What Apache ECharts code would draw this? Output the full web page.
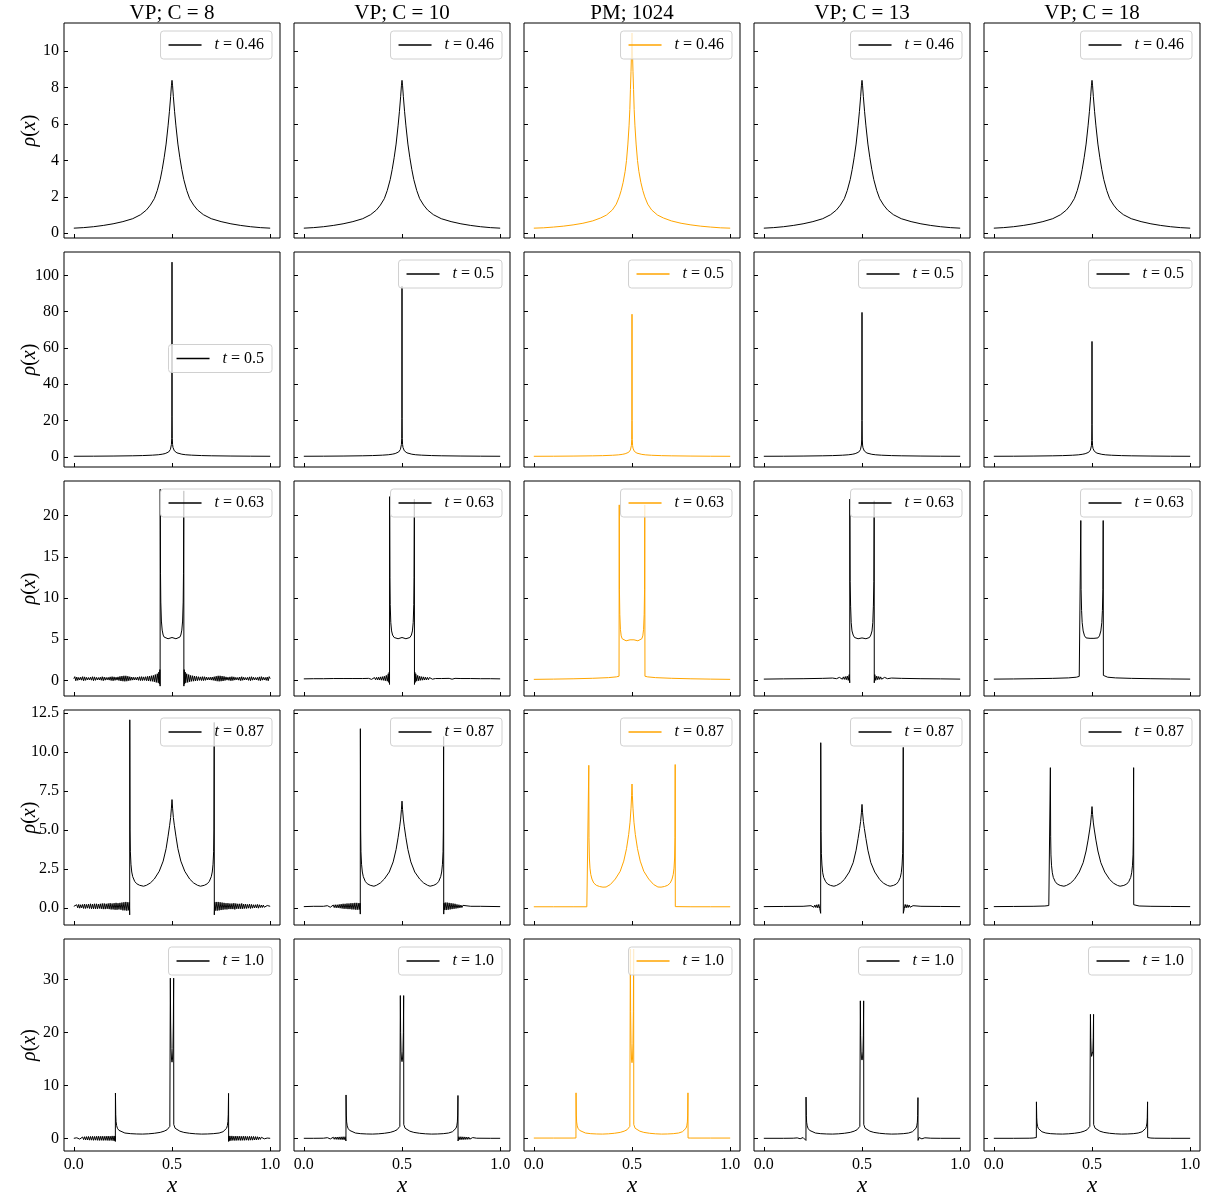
<!DOCTYPE html>
<html><head><meta charset="utf-8">
<script src="https://cdn.jsdelivr.net/npm/echarts@6/dist/echarts.min.js"></script>
<style>html,body{margin:0;padding:0;background:#fff}#c{width:1206px;height:1198px}</style>
</head><body><div id="c"></div>
<script>
// ---------- labels ----------
const columnTitles = ['VP; C = 8', 'VP; C = 10', 'PM; 1024', 'VP; C = 13', 'VP; C = 18'];
const rowTimes = ['0.46', '0.5', '0.63', '0.87', '1.0'];
const xTicks = [0, 0.5, 1.0];
const yTicksRow = [[0,2,4,6,8,10],[0,20,40,60,80,100],[0,5,10,15,20],[0,2.5,5,7.5,10,12.5],[0,10,20,30]];
const yLimits = [[-0.26,11.55],[-5.6,112.9],[-1.9,24.2],[-1.1,12.7],[-2.4,37.7]];
const xLimits = [-0.05, 1.05];

// ---------- row 1 : t = 0.46 ----------
const xR1 = [0,0.05,0.1,0.15,0.2,0.25,0.3,0.34,0.37,0.39,0.41,0.425,0.44,0.45,0.46,0.47,0.48,0.487,0.493,0.497,0.5,0.503,0.507,0.513,0.52,0.53,0.54,0.55,0.56,0.575,0.59,0.61,0.63,0.66,0.7,0.75,0.8,0.85,0.9,0.95,1];
const yR1vp = [0.28,0.31,0.36,0.43,0.52,0.64,0.80,1.02,1.28,1.55,1.9,2.35,2.95,3.5,4.15,4.9,5.9,6.7,7.5,8.1,8.4,8.1,7.5,6.7,5.9,4.9,4.15,3.5,2.95,2.35,1.9,1.55,1.28,1.02,0.80,0.64,0.52,0.43,0.36,0.31,0.28];
const xR1pm = [0,0.05,0.1,0.15,0.2,0.25,0.3,0.34,0.37,0.4,0.42,0.435,0.445,0.455,0.465,0.472,0.479,0.485,0.489,0.492,0.495,0.4975,0.5,0.5025,0.505,0.508,0.511,0.515,0.521,0.528,0.535,0.545,0.555,0.565,0.58,0.6,0.63,0.66,0.7,0.75,0.8,0.85,0.9,0.95,1];
const yR1pm = [0.28,0.30,0.34,0.39,0.46,0.55,0.68,0.84,1.0,1.28,1.6,2.0,2.35,2.8,3.4,4.0,4.9,5.9,6.8,7.9,8.9,9.9,11.0,9.9,8.9,7.9,6.8,5.9,4.9,4.0,3.4,2.8,2.35,2.0,1.6,1.28,1.0,0.84,0.68,0.55,0.46,0.39,0.34,0.30,0.28];

// ---------- row 2 : t = 0.5 ----------
const xR2 = [0,0.1,0.2,0.3,0.35,0.4,0.43,0.45,0.465,0.475,0.483,0.488,0.492,0.495,0.497,0.4985,0.4995,0.5,0.5005,0.5015,0.503,0.505,0.508,0.512,0.517,0.525,0.535,0.55,0.57,0.6,0.65,0.7,0.8,0.9,1];
const yR2c1 = [0.32,0.36,0.44,0.58,0.7,0.92,1.15,1.45,1.8,2.2,2.7,3.3,4.1,5.2,6.8,10,22,107.3,22,10,6.8,5.2,4.1,3.3,2.7,2.2,1.8,1.45,1.15,0.92,0.7,0.58,0.44,0.36,0.32];
const yR2c2 = [0.32,0.36,0.44,0.58,0.7,0.92,1.15,1.45,1.8,2.2,2.7,3.3,4.1,5.2,6.8,10,21,94,21,10,6.8,5.2,4.1,3.3,2.7,2.2,1.8,1.45,1.15,0.92,0.7,0.58,0.44,0.36,0.32];
const yR2c3 = [0.3,0.34,0.42,0.55,0.66,0.86,1.08,1.35,1.7,2.05,2.5,3.0,3.8,4.8,6.3,9.5,20,78.6,20,9.5,6.3,4.8,3.8,3.0,2.5,2.05,1.7,1.35,1.08,0.86,0.66,0.55,0.42,0.34,0.3];
const yR2c4 = [0.31,0.35,0.43,0.57,0.68,0.9,1.12,1.4,1.75,2.1,2.6,3.2,3.9,5.0,6.5,9.8,20,79.6,20,9.8,6.5,5.0,3.9,3.2,2.6,2.1,1.75,1.4,1.12,0.9,0.68,0.57,0.43,0.35,0.31];
const yR2c5 = [0.31,0.35,0.43,0.56,0.67,0.88,1.1,1.38,1.72,2.05,2.5,3.05,3.75,4.7,6.1,9.0,18,63.6,18,9.0,6.1,4.7,3.75,3.05,2.5,2.05,1.72,1.38,1.1,0.88,0.67,0.56,0.43,0.35,0.31];

// ---------- oscillating baselines (sampled x positions) ----------
const xOsc3L = [0,0.005,0.01,0.015,0.02,0.025,0.03,0.035,0.04,0.045,0.05,0.055,0.06,0.065,0.07,0.075,0.08,0.085,0.09,0.095,0.1,0.105,0.11,0.115,0.12,0.125,0.13,0.135,0.14,0.145,0.15,0.155,0.16,0.165,0.17,0.175,0.18,0.185,0.19,0.195,0.2,0.205,0.21,0.215,0.22,0.225,0.23,0.235,0.24,0.245,0.25,0.255,0.26,0.265,0.27,0.275,0.28,0.285,0.29,0.295,0.3,0.305,0.31,0.315,0.32,0.325,0.33,0.335,0.34,0.345,0.35,0.355,0.36,0.365,0.37,0.375,0.38,0.385,0.39,0.395,0.4,0.405,0.41,0.415,0.42,0.425,0.43];
const xOsc3R = [0.57,0.575,0.58,0.585,0.59,0.595,0.6,0.605,0.61,0.615,0.62,0.625,0.63,0.635,0.64,0.645,0.65,0.655,0.66,0.665,0.67,0.675,0.68,0.685,0.69,0.695,0.7,0.705,0.71,0.715,0.72,0.725,0.73,0.735,0.74,0.745,0.75,0.755,0.76,0.765,0.77,0.775,0.78,0.785,0.79,0.795,0.8,0.805,0.81,0.815,0.82,0.825,0.83,0.835,0.84,0.845,0.85,0.855,0.86,0.865,0.87,0.875,0.88,0.885,0.89,0.895,0.9,0.905,0.91,0.915,0.92,0.925,0.93,0.935,0.94,0.945,0.95,0.955,0.96,0.965,0.97,0.975,0.98,0.985,0.99,0.995,1];
const xOsc4L = [0,0.005,0.01,0.015,0.02,0.025,0.03,0.035,0.04,0.045,0.05,0.055,0.06,0.065,0.07,0.075,0.08,0.085,0.09,0.095,0.1,0.105,0.11,0.115,0.12,0.125,0.13,0.135,0.14,0.145,0.15,0.155,0.16,0.165,0.17,0.175,0.18,0.185,0.19,0.195,0.2,0.205,0.21,0.215,0.22,0.225,0.23,0.235,0.24,0.245,0.25,0.255,0.26,0.265,0.27,0.275,0.28];
const xOsc4R = [0.72,0.725,0.73,0.735,0.74,0.745,0.75,0.755,0.76,0.765,0.77,0.775,0.78,0.785,0.79,0.795,0.8,0.805,0.81,0.815,0.82,0.825,0.83,0.835,0.84,0.845,0.85,0.855,0.86,0.865,0.87,0.875,0.88,0.885,0.89,0.895,0.9,0.905,0.91,0.915,0.92,0.925,0.93,0.935,0.94,0.945,0.95,0.955,0.96,0.965,0.97,0.975,0.98,0.985,0.99,0.995,1];
const xOsc5L = [0,0.005,0.01,0.015,0.02,0.025,0.03,0.035,0.04,0.045,0.05,0.055,0.06,0.065,0.07,0.075,0.08,0.085,0.09,0.095,0.1,0.105,0.11,0.115,0.12,0.125,0.13,0.135,0.14,0.145,0.15,0.155,0.16,0.165,0.17,0.175,0.18,0.185,0.19,0.195,0.2,0.205];
const xOsc5R = [0.795,0.8,0.805,0.81,0.815,0.82,0.825,0.83,0.835,0.84,0.845,0.85,0.855,0.86,0.865,0.87,0.875,0.88,0.885,0.89,0.895,0.9,0.905,0.91,0.915,0.92,0.925,0.93,0.935,0.94,0.945,0.95,0.955,0.96,0.965,0.97,0.975,0.98,0.985,0.99,0.995,1];

// ---------- row 3 : t = 0.63 ----------
const yOsc3c1L = [0.2,0.45,-0.05,0.4,0.0,0.35,0.05,0.38,0.02,0.45, -0.05,0.42,0.0,0.36,0.05,0.34,0.06,0.38,0.02,0.44, -0.04,0.42,0.0,0.36,0.05,0.34,0.05,0.38,0.01,0.44, -0.04,0.4,0.02,0.35,0.06,0.36,0.03,0.42,-0.02,0.45, -0.05,0.42,0.0,0.38,0.03,0.42,-0.02,0.48,-0.08,0.52, -0.1,0.55,-0.12,0.55,-0.1,0.5,-0.05,0.44,0.0,0.4, 0.03,0.38,0.05,0.36,0.04,0.4,0.0,0.44,-0.03,0.45, -0.02,0.42,0.0,0.44,-0.04,0.48,-0.08,0.52,-0.1,0.56, -0.12,0.6,-0.18,0.7,-0.25,0.8,-0.3];
const r3c1Mid = [[0.433,1.0],[0.436,-0.45],[0.438,1.3],[0.4395,-0.7],[0.44,23.2],[0.4415,13],[0.443,9.5],[0.446,7.2],[0.45,6.1],[0.455,5.5],[0.46,5.25],[0.47,5.05],[0.48,5.05],[0.49,5.15],[0.5,5.2],[0.51,5.15],[0.52,5.05],[0.53,5.05],[0.54,5.25],[0.545,5.5],[0.55,6.1],[0.554,7.2],[0.557,9.5],[0.5585,13],[0.56,23.0],[0.5605,-0.7],[0.562,1.3],[0.564,-0.45],[0.567,1.0]];
const yOsc3c1R = [-0.3,0.8,-0.25,0.7,-0.18,0.6,-0.12, 0.56,-0.1,0.52,-0.08,0.48,-0.04,0.44,0.0,0.42,-0.02, 0.45,-0.03,0.44,0.0,0.4,0.04,0.36,0.05,0.38,0.03, 0.4,0.0,0.44,-0.05,0.5,-0.1,0.55,-0.12,0.55,-0.1, 0.52,-0.08,0.48,-0.02,0.42,0.03,0.38,0.0,0.42,-0.05, 0.45,-0.02,0.42,0.03,0.36,0.06,0.35,0.02,0.4,-0.04, 0.44,0.01,0.38,0.05,0.34,0.05,0.36,0.0,0.42,-0.04, 0.44,0.02,0.38,0.06,0.34,0.05,0.36,0.0,0.42,-0.05, 0.45,0.02,0.38,0.05,0.35,0.0,0.4,-0.05,0.45,0.2];
const r3c2 = [[0,0.18],[0.05,0.2],[0.1,0.2],[0.15,0.22],[0.2,0.22],[0.25,0.22],[0.3,0.22],[0.33,0.24],[0.335,0.16],[0.34,0.3],[0.345,0.12],[0.35,0.32],[0.355,0.1],[0.36,0.34],[0.365,0.08],[0.37,0.36],[0.375,0.06],[0.38,0.38],[0.385,0.04],[0.39,0.42],[0.395,0.02],[0.4,0.45],[0.405,0],[0.41,0.5],[0.415,-0.05],[0.42,0.6],[0.425,-0.1],[0.43,0.8],[0.433,-0.25],[0.435,1.0],[0.4365,-0.5],
  [0.437,22.3],[0.4385,12.5],[0.44,9.2],[0.443,7.0],[0.447,6.0],[0.452,5.5],[0.46,5.2],[0.47,5.05],[0.48,5.05],[0.49,5.15],[0.5,5.2],[0.51,5.15],[0.52,5.05],[0.53,5.05],[0.54,5.2],[0.548,5.5],[0.553,6.0],[0.557,7.0],[0.56,9.2],[0.5615,12.5],[0.563,22.0],
  [0.5635,-0.5],[0.565,1.0],[0.567,-0.25],[0.57,0.8],[0.575,-0.1],[0.58,0.6],[0.585,-0.05],[0.59,0.5],[0.595,0],[0.6,0.45],[0.605,0.02],[0.61,0.42],[0.615,0.04],[0.62,0.38],[0.625,0.06],[0.63,0.36],[0.635,0.08],[0.64,0.34],[0.645,0.1],[0.65,0.3],[0.655,0.14],[0.66,0.26],[0.67,0.22],[0.7,0.22],[0.74,0.24],[0.745,0.16],[0.75,0.3],[0.755,0.14],[0.76,0.3],[0.765,0.16],[0.77,0.24],[0.8,0.22],[0.85,0.22],[0.9,0.2],[0.95,0.2],[1,0.18]];
const r3c3 = [[0,0.12],[0.1,0.15],[0.2,0.19],[0.3,0.25],[0.38,0.33],[0.42,0.42],[0.434,0.5],[0.435,21.3],[0.436,11],[0.438,8],[0.441,6.2],[0.445,5.4],[0.45,5.05],[0.46,4.85],[0.47,4.8],[0.48,4.82],[0.49,4.92],[0.5,5.0],[0.51,4.92],[0.52,4.82],[0.53,4.8],[0.54,4.85],[0.55,5.05],[0.555,5.4],[0.559,6.2],[0.562,8],[0.564,11],[0.565,21.3],[0.566,0.5],[0.58,0.42],[0.62,0.33],[0.7,0.25],[0.8,0.19],[0.9,0.15],[1,0.12]];
const r3c4 = [[0,0.15],[0.1,0.18],[0.2,0.2],[0.3,0.24],[0.35,0.28],[0.37,0.2],[0.375,0.34],[0.38,0.18],[0.385,0.36],[0.39,0.16],[0.395,0.38],[0.4,0.14],[0.405,0.42],[0.41,0.12],[0.415,0.46],[0.42,0.08],[0.425,0.52],[0.43,0.0],[0.435,0.7],[0.4375,-0.3],[0.438,22.0],[0.4395,12],[0.442,9],[0.445,7.0],[0.449,6.0],[0.455,5.5],[0.462,5.2],[0.47,5.1],[0.48,5.05],[0.49,5.12],[0.5,5.15],[0.51,5.12],[0.52,5.05],[0.53,5.1],[0.538,5.2],[0.545,5.5],[0.551,6.0],[0.555,7.0],[0.558,9],[0.5605,12],[0.562,21.8],[0.5625,-0.3],[0.565,0.7],[0.57,0.0],[0.575,0.52],[0.58,0.08],[0.585,0.46],[0.59,0.12],[0.595,0.42],[0.6,0.14],[0.605,0.38],[0.61,0.16],[0.615,0.36],[0.62,0.18],[0.625,0.34],[0.63,0.2],[0.65,0.28],[0.7,0.24],[0.8,0.2],[0.9,0.18],[1,0.15]];
const r3c5 = [[0,0.15],[0.1,0.17],[0.2,0.2],[0.3,0.24],[0.38,0.3],[0.42,0.38],[0.435,0.48],[0.442,0.6],[0.443,19.4],[0.4445,11],[0.447,8.5],[0.45,7.0],[0.455,6.0],[0.462,5.4],[0.47,5.15],[0.48,5.05],[0.49,5.1],[0.5,5.15],[0.51,5.1],[0.52,5.05],[0.53,5.15],[0.538,5.4],[0.545,6.0],[0.55,7.0],[0.553,8.5],[0.5555,11],[0.557,19.4],[0.558,0.6],[0.565,0.48],[0.58,0.38],[0.62,0.3],[0.7,0.24],[0.8,0.2],[0.9,0.17],[1,0.15]];

// ---------- row 4 : t = 0.87 ----------
const yOsc4c1L = [0.1,0.2,0.0,0.2,0.0,0.22,-0.02,0.2,0.0,0.22, -0.04,0.24,-0.04,0.22,-0.02,0.24,-0.04,0.26,-0.06,0.24, -0.06,0.26,-0.06,0.26,-0.06,0.24,-0.04,0.26,-0.06,0.28, -0.08,0.28,-0.08,0.26,-0.06,0.28,-0.08,0.3,-0.1,0.28, -0.1,0.3,-0.12,0.32,-0.12,0.3,-0.1,0.32,-0.12,0.34, -0.16,0.36,-0.16,0.38,-0.18,0.36,-0.16];
const r4c1Mid = [[0.283,0.35],[0.2845,-0.45],[0.285,12.07],[0.2865,5.0],[0.288,3.6],[0.291,2.8],[0.295,2.3],[0.3,2.0],[0.31,1.7],[0.32,1.55],[0.335,1.45],[0.355,1.39],[0.37,1.45],[0.39,1.6],[0.41,1.85],[0.435,2.35],[0.455,3.0],[0.47,3.8],[0.48,4.6],[0.488,5.3],[0.493,5.8],[0.497,6.4],[0.5,6.95],[0.503,6.4],[0.507,5.8],[0.512,5.3],[0.52,4.6],[0.53,3.8],[0.545,3.0],[0.565,2.35],[0.59,1.85],[0.61,1.6],[0.63,1.45],[0.645,1.39],[0.665,1.45],[0.68,1.55],[0.69,1.7],[0.7,2.0],[0.705,2.3],[0.709,2.8],[0.712,3.6],[0.7135,5.0],[0.715,11.9],[0.7155,-0.45],[0.717,0.35]];
const yOsc4c1R = [-0.18,0.38,-0.18,0.38,-0.16,0.36,-0.14,0.34,-0.12,0.32, -0.1,0.3,-0.1,0.3,-0.08,0.28,-0.08,0.28,-0.08,0.3, -0.1,0.28,-0.06,0.26,-0.06,0.26,-0.06,0.28,-0.06,0.24, -0.04,0.24,-0.04,0.22,-0.02,0.24,-0.04,0.22,-0.02,0.2, 0.0,0.2,0.0,0.22,-0.02,0.2,0.02,0.18,0.02,0.18, 0.04,0.16,0.05,0.15,0.06,0.14,0.1];
const r4c2 = [[0,0.08],[0.05,0.1],[0.1,0.1],[0.12,0.14],[0.125,0.06],[0.13,0.16],[0.135,0.04],[0.14,0.16],[0.145,0.04],[0.15,0.18],[0.155,0.02],[0.16,0.2],[0.165,0],[0.17,0.2],[0.175,0],[0.18,0.22],[0.185,-0.02],[0.19,0.24],[0.195,-0.04],[0.2,0.26],[0.205,-0.06],[0.21,0.26],[0.215,-0.06],[0.22,0.28],[0.225,-0.08],[0.23,0.28],[0.235,-0.08],[0.24,0.3],[0.245,-0.1],[0.25,0.3],[0.255,-0.1],[0.26,0.32],[0.265,-0.12],[0.27,0.32],[0.275,-0.12],[0.28,0.3],[0.284,-0.1],[0.2865,0.3],[0.2875,-0.4],
  [0.288,11.5],[0.2895,5.0],[0.291,3.6],[0.294,2.8],[0.298,2.3],[0.303,2.0],[0.313,1.7],[0.323,1.55],[0.338,1.45],[0.357,1.39],[0.37,1.45],[0.39,1.6],[0.41,1.85],[0.435,2.3],[0.455,2.95],[0.47,3.75],[0.48,4.5],[0.488,5.2],[0.493,5.7],[0.497,6.3],[0.5,6.85],[0.503,6.3],[0.507,5.7],[0.512,5.2],[0.52,4.5],[0.53,3.75],[0.545,2.95],[0.565,2.3],[0.59,1.85],[0.61,1.6],[0.63,1.45],[0.643,1.39],[0.662,1.45],[0.677,1.55],[0.687,1.7],[0.697,2.0],[0.702,2.3],[0.706,2.8],[0.709,3.6],[0.7105,5.0],[0.712,11.0],
  [0.7125,-0.4],[0.7135,0.3],[0.716,-0.12],[0.72,0.34],[0.725,-0.14],[0.73,0.34],[0.735,-0.12],[0.74,0.32],[0.745,-0.1],[0.75,0.3],[0.755,-0.08],[0.76,0.28],[0.765,-0.06],[0.77,0.26],[0.775,-0.04],[0.78,0.22],[0.785,-0.02],[0.79,0.2],[0.795,0],[0.8,0.18],[0.805,0.02],[0.81,0.16],[0.815,0.04],[0.82,0.14],[0.85,0.1],[0.9,0.1],[1,0.08]];
const r4c3 = [[0,0.07],[0.1,0.07],[0.2,0.07],[0.27,0.07],[0.2795,0.08],[0.28,9.15],[0.281,4.5],[0.283,3.2],[0.286,2.55],[0.29,2.15],[0.296,1.85],[0.305,1.6],[0.318,1.45],[0.335,1.37],[0.352,1.33],[0.368,1.34],[0.39,1.5],[0.415,1.85],[0.44,2.35],[0.458,3.0],[0.472,3.8],[0.483,4.7],[0.49,5.5],[0.495,6.4],[0.498,7.2],[0.5,7.95],[0.502,7.2],[0.505,6.4],[0.51,5.5],[0.517,4.7],[0.528,3.8],[0.542,3.0],[0.56,2.35],[0.585,1.85],[0.61,1.5],[0.632,1.34],[0.648,1.33],[0.665,1.37],[0.682,1.45],[0.695,1.6],[0.704,1.85],[0.71,2.15],[0.714,2.55],[0.717,3.2],[0.719,4.5],[0.72,9.2],[0.7205,0.08],[0.73,0.07],[0.8,0.07],[0.9,0.07],[1,0.07]];
const r4c4 = [[0,0.08],[0.1,0.09],[0.2,0.1],[0.24,0.14],[0.245,0.06],[0.25,0.16],[0.255,0.04],[0.26,0.18],[0.265,0.02],[0.27,0.2],[0.275,0.0],[0.28,0.22],[0.285,-0.05],[0.2895,-0.35],[0.29,10.6],[0.2915,4.9],[0.293,3.5],[0.296,2.75],[0.3,2.25],[0.305,1.95],[0.315,1.68],[0.325,1.53],[0.34,1.44],[0.357,1.39],[0.37,1.44],[0.39,1.58],[0.41,1.82],[0.435,2.3],[0.455,2.9],[0.47,3.7],[0.48,4.45],[0.488,5.1],[0.493,5.55],[0.497,6.1],[0.5,6.64],[0.503,6.1],[0.507,5.55],[0.512,5.1],[0.52,4.45],[0.53,3.7],[0.545,2.9],[0.565,2.3],[0.59,1.82],[0.61,1.58],[0.63,1.44],[0.643,1.39],[0.66,1.44],[0.675,1.53],[0.685,1.68],[0.695,1.95],[0.7,2.25],[0.704,2.75],[0.707,3.5],[0.7085,4.9],[0.71,10.3],[0.7105,-0.35],[0.715,-0.05],[0.72,0.22],[0.725,0.0],[0.73,0.2],[0.735,0.02],[0.74,0.18],[0.745,0.04],[0.75,0.16],[0.755,0.06],[0.76,0.14],[0.8,0.1],[0.9,0.09],[1,0.08]];
const r4c5 = [[0,0.08],[0.1,0.09],[0.2,0.1],[0.26,0.12],[0.28,0.15],[0.2875,0.2],[0.288,9.0],[0.2895,4.6],[0.291,3.4],[0.294,2.7],[0.298,2.25],[0.303,1.95],[0.313,1.68],[0.323,1.53],[0.338,1.44],[0.357,1.39],[0.37,1.44],[0.39,1.58],[0.41,1.82],[0.435,2.3],[0.455,2.9],[0.47,3.65],[0.48,4.35],[0.488,5.0],[0.493,5.45],[0.497,6.0],[0.5,6.5],[0.503,6.0],[0.507,5.45],[0.512,5.0],[0.52,4.35],[0.53,3.65],[0.545,2.9],[0.565,2.3],[0.59,1.82],[0.61,1.58],[0.63,1.44],[0.643,1.39],[0.662,1.44],[0.677,1.53],[0.687,1.68],[0.697,1.95],[0.702,2.25],[0.706,2.7],[0.709,3.4],[0.7105,4.6],[0.712,9.0],[0.7125,0.2],[0.72,0.15],[0.74,0.12],[0.8,0.1],[0.9,0.09],[1,0.08]];

// ---------- row 5 : t = 1.0 ----------
const yOsc5c1L = [0.0,0.05,-0.05,0.1,-0.1,0.15,-0.15,0.2,-0.2,0.25, -0.25,0.3,-0.3,0.32,-0.32,0.35,-0.35,0.35,-0.35,0.38, -0.38,0.35,-0.35,0.38,-0.38,0.4,-0.4,0.38,-0.38,0.4, -0.4,0.38,-0.38,0.4,-0.4,0.42,-0.42,0.4,-0.4,0.45, -0.45,0.45];
const r5c1Mid = [[0.208,-0.45],[0.2105,0.4],[0.2115,-0.6],[0.212,8.57],[0.2135,4.5],[0.215,3.2],[0.218,2.4],[0.222,1.9],[0.23,1.5],[0.24,1.25],[0.26,1.0],[0.29,0.88],[0.32,0.82],[0.35,0.8],[0.38,0.85],[0.41,0.95],[0.44,1.12],[0.46,1.35],[0.475,1.62],[0.484,1.9],[0.489,2.25],[0.491,2.6],[0.4915,30.3],[0.493,22],[0.495,17],[0.4975,15],[0.5,14.4],[0.5025,15],[0.505,17],[0.507,22],[0.5085,30.3],[0.509,2.6],[0.511,2.25],[0.516,1.9],[0.525,1.62],[0.54,1.35],[0.56,1.12],[0.59,0.95],[0.62,0.85],[0.65,0.8],[0.68,0.82],[0.71,0.88],[0.74,1.0],[0.76,1.25],[0.77,1.5],[0.778,1.9],[0.782,2.4],[0.785,3.2],[0.7865,4.5],[0.788,8.5],[0.7885,-0.6],[0.7895,0.4],[0.792,-0.45]];
const yOsc5c1R = [0.45,-0.45,0.45,-0.4,0.4,-0.42,0.42,-0.4,0.4,-0.38, 0.4,-0.4,0.38,-0.38,0.4,-0.38,0.38,-0.35,0.35,-0.38, 0.38,-0.35,0.35,-0.35,0.35,-0.32,0.32,-0.3,0.3,-0.25, 0.25,-0.2,0.2,-0.15,0.15,-0.1,0.1,-0.05,0.05,0.0, 0.02,0.0];
const r5c2 = [[0,0],[0.05,0],[0.1,0.02],[0.12,0.12],[0.125,-0.1],[0.13,0.15],[0.135,-0.12],[0.14,0.18],[0.145,-0.15],[0.15,0.2],[0.155,-0.18],[0.16,0.22],[0.165,-0.2],[0.17,0.24],[0.175,-0.22],[0.18,0.26],[0.185,-0.24],[0.19,0.28],[0.195,-0.26],[0.2,0.3],[0.205,-0.28],[0.21,0.3],[0.2145,-0.5],
  [0.215,8.2],[0.2165,4.4],[0.218,3.1],[0.221,2.35],[0.225,1.9],[0.233,1.5],[0.243,1.25],[0.263,1.0],[0.29,0.88],[0.32,0.82],[0.35,0.8],[0.38,0.85],[0.41,0.95],[0.44,1.12],[0.46,1.35],[0.475,1.62],[0.484,1.9],[0.489,2.25],[0.491,2.6],[0.4915,27],[0.493,20],[0.495,16.5],[0.4975,15],[0.5,14.5],[0.5025,15],[0.505,16.5],[0.507,20],[0.5085,27],[0.509,2.6],[0.511,2.25],[0.516,1.9],[0.525,1.62],[0.54,1.35],[0.56,1.12],[0.59,0.95],[0.62,0.85],[0.65,0.8],[0.68,0.82],[0.71,0.88],[0.737,1.0],[0.757,1.25],[0.767,1.5],[0.775,1.9],[0.779,2.35],[0.782,3.1],[0.7835,4.4],[0.785,8.1],
  [0.7855,-0.5],[0.79,0.3],[0.795,-0.28],[0.8,0.3],[0.805,-0.26],[0.81,0.28],[0.815,-0.24],[0.82,0.26],[0.825,-0.22],[0.83,0.24],[0.835,-0.2],[0.84,0.22],[0.845,-0.16],[0.85,0.18],[0.855,-0.12],[0.86,0.14],[0.865,-0.08],[0.87,0.1],[0.88,0.02],[0.95,0],[1,0]];
const r5c3 = [[0,0.05],[0.1,0.05],[0.2,0.05],[0.2145,0.06],[0.215,8.6],[0.2165,4.4],[0.218,3.1],[0.221,2.35],[0.225,1.9],[0.233,1.5],[0.243,1.25],[0.263,1.0],[0.29,0.88],[0.32,0.82],[0.35,0.8],[0.38,0.85],[0.41,0.95],[0.44,1.12],[0.46,1.35],[0.475,1.62],[0.484,1.9],[0.489,2.25],[0.491,2.6],[0.4915,35.8],[0.493,24],[0.495,18],[0.4975,15],[0.5,14.3],[0.5025,15],[0.505,18],[0.507,24],[0.5085,35.8],[0.509,2.6],[0.511,2.25],[0.516,1.9],[0.525,1.62],[0.54,1.35],[0.56,1.12],[0.59,0.95],[0.62,0.85],[0.65,0.8],[0.68,0.82],[0.71,0.88],[0.737,1.0],[0.757,1.25],[0.767,1.5],[0.775,1.9],[0.779,2.35],[0.782,3.1],[0.7835,4.4],[0.785,8.6],[0.7855,0.06],[0.8,0.05],[0.9,0.05],[1,0.05]];
const r5c4 = [[0,0],[0.1,0],[0.15,0.02],[0.17,0.08],[0.175,-0.06],[0.18,0.1],[0.185,-0.08],[0.19,0.12],[0.195,-0.1],[0.2,0.14],[0.205,-0.12],[0.21,0.15],[0.2145,-0.4],[0.215,7.8],[0.2165,4.3],[0.218,3.05],[0.221,2.35],[0.225,1.9],[0.233,1.5],[0.243,1.25],[0.263,1.0],[0.29,0.88],[0.32,0.82],[0.35,0.8],[0.38,0.85],[0.41,0.95],[0.44,1.12],[0.46,1.35],[0.475,1.62],[0.484,1.9],[0.489,2.25],[0.491,2.6],[0.4915,26],[0.493,19.5],[0.495,16.5],[0.4975,15.2],[0.5,14.8],[0.5025,15.2],[0.505,16.5],[0.507,19.5],[0.5085,26],[0.509,2.6],[0.511,2.25],[0.516,1.9],[0.525,1.62],[0.54,1.35],[0.56,1.12],[0.59,0.95],[0.62,0.85],[0.65,0.8],[0.68,0.82],[0.71,0.88],[0.737,1.0],[0.757,1.25],[0.767,1.5],[0.775,1.9],[0.779,2.35],[0.782,3.05],[0.7835,4.3],[0.785,7.7],[0.7855,-0.4],[0.79,0.15],[0.795,-0.12],[0.8,0.14],[0.805,-0.1],[0.81,0.12],[0.815,-0.08],[0.82,0.1],[0.825,-0.06],[0.83,0.08],[0.85,0.02],[0.9,0],[1,0]];
const r5c5 = [[0,0],[0.1,0],[0.18,0.02],[0.2,0.05],[0.21,0.1],[0.2165,0.15],[0.217,6.9],[0.2185,3.9],[0.22,2.9],[0.223,2.25],[0.227,1.85],[0.235,1.48],[0.245,1.24],[0.265,1.0],[0.29,0.88],[0.32,0.82],[0.35,0.8],[0.38,0.85],[0.41,0.95],[0.44,1.12],[0.46,1.35],[0.475,1.62],[0.484,1.9],[0.489,2.25],[0.4915,2.6],[0.492,23.45],[0.4935,19],[0.4955,16.5],[0.498,15.5],[0.5,15.3],[0.502,15.5],[0.5045,16.5],[0.5065,19],[0.508,23.45],[0.5085,2.6],[0.511,2.25],[0.516,1.9],[0.525,1.62],[0.54,1.35],[0.56,1.12],[0.59,0.95],[0.62,0.85],[0.65,0.8],[0.68,0.82],[0.71,0.88],[0.735,1.0],[0.755,1.24],[0.765,1.48],[0.773,1.85],[0.777,2.25],[0.78,2.9],[0.7815,3.9],[0.783,6.9],[0.7835,0.15],[0.79,0.1],[0.8,0.05],[0.82,0.02],[0.9,0],[1,0]];

// ---------- assemble ----------
const zip = (xs, ys) => xs.map((x, i) => [x, ys[i]]);
const r3c1 = zip(xOsc3L, yOsc3c1L).concat(r3c1Mid, zip(xOsc3R, yOsc3c1R));
const r4c1 = zip(xOsc4L, yOsc4c1L).concat(r4c1Mid, zip(xOsc4R, yOsc4c1R));
const r5c1 = zip(xOsc5L, yOsc5c1L).concat(r5c1Mid, zip(xOsc5R, yOsc5c1R));
const panels = [
  [zip(xR1, yR1vp), zip(xR1, yR1vp), zip(xR1pm, yR1pm), zip(xR1, yR1vp), zip(xR1, yR1vp)],
  [zip(xR2, yR2c1), zip(xR2, yR2c2), zip(xR2, yR2c3), zip(xR2, yR2c4), zip(xR2, yR2c5)],
  [r3c1, r3c2, r3c3, r3c4, r3c5],
  [r4c1, r4c2, r4c3, r4c4, r4c5],
  [r5c1, r5c2, r5c3, r5c4, r5c5]
];
const lineColors = ['#000000', '#000000', '#FFA500', '#000000', '#000000'];

const FONT = "'Liberation Serif', 'DejaVu Serif', serif";
const colLeft = [64, 294, 524, 754, 984], rowTop = [23, 252, 481, 710, 939];
const W = 216, H = 215, PAGE_W = 1206;

const grid = [], xAxis = [], yAxis = [], series = [], legend = [], title = [];
for (let c = 0; c < 5; c++) {
  title.push({ text: columnTitles[c], left: colLeft[c] + W / 2, top: 3, padding: 0, textAlign: 'center',
    textStyle: { fontFamily: FONT, fontSize: 21, fontWeight: 'normal', color: '#000' } });
}
for (let r = 0; r < 5; r++) {
  for (let c = 0; c < 5; c++) {
    const idx = r * 5 + c;
    grid.push({ left: colLeft[c], top: rowTop[r], width: W, height: H, show: true,
      borderColor: '#000', borderWidth: 1, backgroundColor: 'transparent' });
    xAxis.push({ gridIndex: idx, type: 'value', min: xLimits[0], max: xLimits[1], position: 'bottom',
      axisLine: { show: false, onZero: false }, splitLine: { show: false },
      axisTick: { show: true, inside: true, length: 4, lineStyle: { color: '#000', width: 1 }, customValues: xTicks },
      axisLabel: { show: r === 4, customValues: xTicks, formatter: v => v.toFixed(1), margin: 6,
        fontFamily: FONT, fontSize: 16, color: '#000' },
      name: r === 4 ? 'x' : '', nameLocation: 'middle', nameGap: 23, nameMoveOverlap: false,
      nameTextStyle: { fontFamily: FONT, fontSize: 23, fontStyle: 'italic', color: '#000' } });
    const yt = yTicksRow[r];
    yAxis.push({ gridIndex: idx, type: 'value', min: yLimits[r][0], max: yLimits[r][1], position: 'left',
      axisLine: { show: false, onZero: false }, splitLine: { show: false },
      axisTick: { show: true, inside: true, length: 4, lineStyle: { color: '#000', width: 1 }, customValues: yt },
      axisLabel: { show: c === 0, customValues: yt, margin: 5,
        formatter: v => (r === 3 ? v.toFixed(1) : String(v)),
        fontFamily: FONT, fontSize: 16, color: '#000' },
      name: c === 0 ? '{i|ρ}{n|(}{i|x}{n|)}' : '', nameLocation: 'middle', nameGap: 24, nameRotate: 90,
      nameMoveOverlap: false,
      nameTextStyle: { fontFamily: FONT, fontSize: 20, color: '#000',
        rich: { i: { fontFamily: FONT, fontSize: 20, fontStyle: 'italic', color: '#000' },
                n: { fontFamily: FONT, fontSize: 20, color: '#000' } } } });
    const sname = 's' + idx;
    series.push({ type: 'line', name: sname, xAxisIndex: idx, yAxisIndex: idx, data: panels[r][c],
      showSymbol: false, symbol: 'none', clip: true, animation: false,
      lineStyle: { width: 1, color: lineColors[c] }, itemStyle: { color: lineColors[c] } });
    const lgTop = (r === 1 && c === 0) ? rowTop[r] + H / 2 - 15 : rowTop[r] + 8;
    legend.push({ data: [sname], right: PAGE_W - (colLeft[c] + W) + 8, top: lgTop, orient: 'vertical',
      selectedMode: false, backgroundColor: 'rgba(255,255,255,0.8)', borderColor: '#d0d0d0', borderWidth: 1,
      borderRadius: 3, padding: [6, 8, 6, 8], icon: 'rect', itemWidth: 33, itemHeight: 1.5,
      formatter: () => '{g| }{i|t} = ' + rowTimes[r],
      textStyle: { fontFamily: FONT, fontSize: 16, color: '#000',
        rich: { i: { fontFamily: FONT, fontSize: 16, fontStyle: 'italic', color: '#000' },
                g: { width: 8, fontSize: 16 } } } });
  }
}

const chart = echarts.init(document.getElementById('c'), null, { renderer: 'canvas' });
chart.setOption({ animation: false, backgroundColor: '#fff', title, grid, xAxis, yAxis, series, legend });
</script>
</body></html>
